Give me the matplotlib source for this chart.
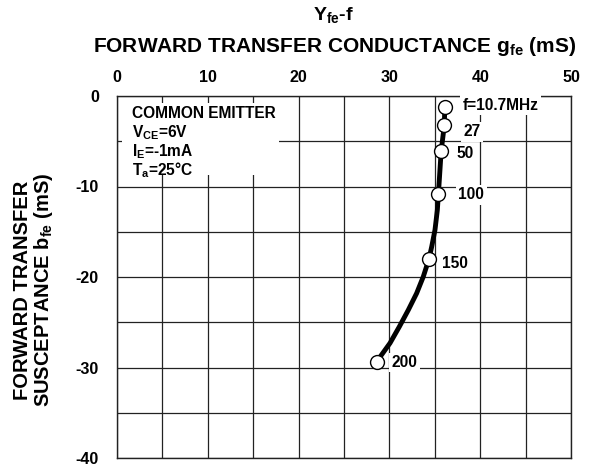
import matplotlib
matplotlib.use("Agg")
import matplotlib.pyplot as plt
from matplotlib.patches import Rectangle

# ===============================
# DATA
# ===============================
freq_labels = ["f=10.7MHz", "27", "50", "100", "150", "200"]
g_fe = [36.1, 36.05, 35.7, 35.4, 34.36, 28.6]       # mS
b_fe = [-1.25, -3.2, -6.1, -10.8, -18.0, -29.35]    # mS

# traced curve, incl. points read between the markers
curve_g = [36.1, 36.05, 35.7, 35.4, 35.28, 35.02, 34.66, 34.36,
           33.73, 33.0, 32.08, 31.09, 30.07, 28.6]
curve_b = [-1.25, -3.2, -6.1, -10.8, -12.6, -14.8, -16.65, -18.0,
           -19.97, -21.8, -23.65, -25.5, -27.3, -29.35]

x_ticks = [0, 10, 20, 30, 40, 50]
x_tick_labels = ["0", "10", "20", "30", "40", "50"]
y_ticks = [0, -10, -20, -30, -40]
y_tick_labels = ["0", "-10", "-20", "-30", "-40"]

cond_lines = ["COMMON EMITTER", r"V$_{\mathrm{CE}}$=6V", r"I$_{\mathrm{E}}$=-1mA", r"T$_{\mathrm{a}}$=25°C"]

# ===============================
# STYLE
# ===============================
plt.rcParams["font.family"] = ["Liberation Sans", "DejaVu Sans"]
plt.rcParams["font.weight"] = "bold"
plt.rcParams["mathtext.fontset"] = "custom"
plt.rcParams["mathtext.rm"] = "Liberation Sans:bold"
plt.rcParams["mathtext.it"] = "Liberation Sans:bold"
plt.rcParams["mathtext.bf"] = "Liberation Sans:bold"

fig = plt.figure(figsize=(5.9, 4.72), dpi=100)
ax = fig.add_axes([117 / 590, 1 - 458 / 472, 454 / 590, 362 / 472])

ax.set_xlim(0, 50)
ax.set_ylim(-40, 0)
ax.xaxis.tick_top()
ax.set_xticks(x_ticks)
ax.set_xticklabels(x_tick_labels)
ax.set_xticks(range(0, 51, 5), minor=True)
ax.set_yticks(y_ticks)
ax.set_yticklabels(y_tick_labels)
ax.set_yticks(range(-40, 1, 5), minor=True)
ax.tick_params(which="both", length=0)
ax.tick_params(axis="x", pad=8, labelsize=11.5)
ax.tick_params(axis="y", pad=13, labelsize=11.5)
ax.set_axisbelow(True)
ax.grid(which="both", color="#222222", lw=0.9)
for sp in ax.spines.values():
    sp.set_color("#222222")
    sp.set_linewidth(1.0)

# conditions box (white, hides the grid)
ax.add_patch(Rectangle((0.55, -8.7), 17.25, 7.9, facecolor="white",
                       edgecolor="none", zorder=1))
for i, line in enumerate(cond_lines):
    ax.text(1.65, -1.9 - i * 2.1, line, fontsize=11.2, fontweight="bold",
            va="center", ha="left", zorder=2)

# curve + markers
ax.plot(curve_g, curve_b, color="black", lw=3.5, solid_capstyle="round",
        solid_joinstyle="round", zorder=3)
ax.plot(g_fe, b_fe, "o", ms=10, mfc="white", mec="black", mew=1.0, zorder=4)

offsets = [(18, 2), (19, -7), (15, -2), (20, -1), (13, -5), (15, -1)]
for lab, gx, by, off in zip(freq_labels, g_fe, b_fe, offsets):
    ax.annotate(lab, (gx, by), xytext=off, textcoords="offset pixels",
                fontsize=11.2, fontweight="bold", va="center", ha="left",
                bbox=dict(boxstyle="square,pad=0.15", fc="white", ec="none"),
                zorder=5)

# titles
fig.text(333 / 590, 1 - 15 / 472, r"Y$_{\mathrm{fe}}$-f", ha="center", va="center",
         fontsize=14, fontweight="bold")
fig.text(335 / 590, 1 - 47 / 472,
         r"FORWARD TRANSFER CONDUCTANCE g$_{\mathrm{fe}}$ (mS)",
         ha="center", va="center", fontsize=15, fontweight="bold")
fig.text(34 / 590, 1 - 290 / 472,
         "FORWARD TRANSFER\n" + r"SUSCEPTANCE b$_{\mathrm{fe}}$ (mS)",
         ha="center", va="center", rotation=90, fontsize=14.5,
         fontweight="bold", linespacing=1.05)

fig.savefig("out.png", dpi=100)
